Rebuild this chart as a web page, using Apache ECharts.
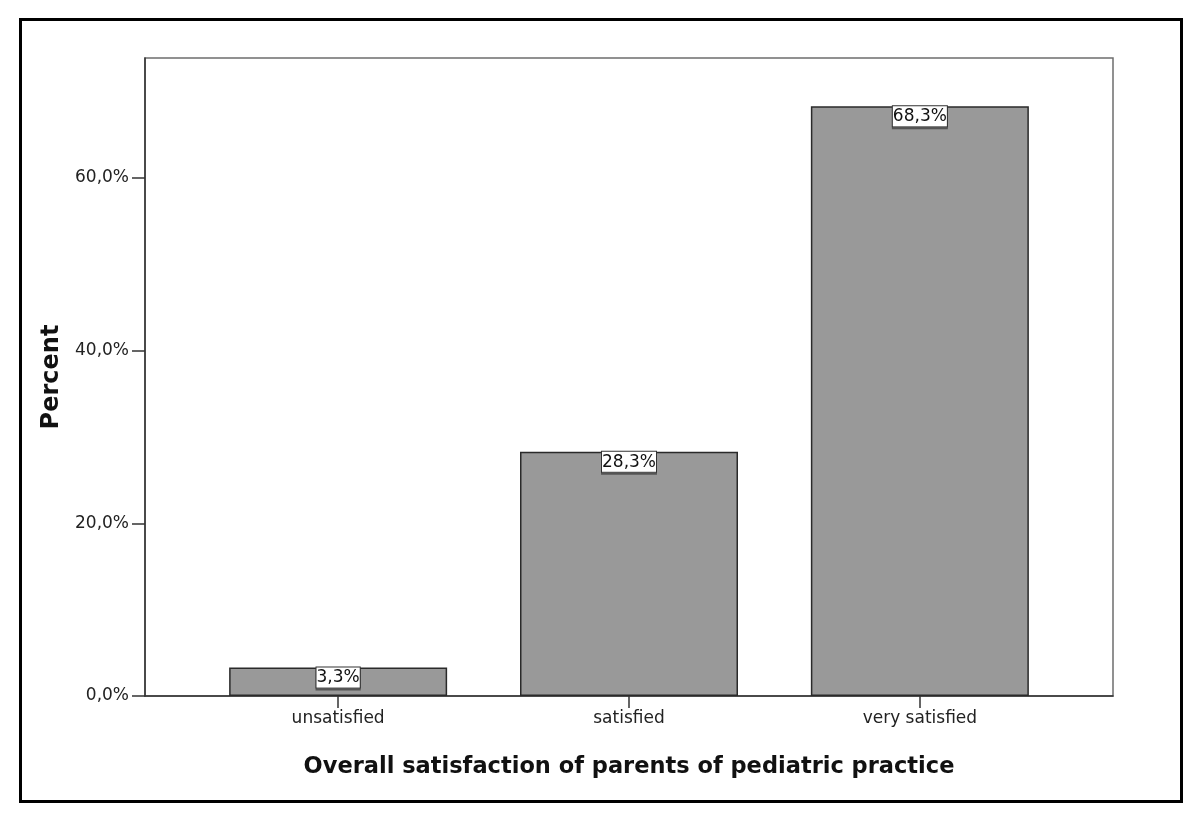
<!DOCTYPE html>
<html><head><meta charset="utf-8">
<script src="https://cdn.jsdelivr.net/npm/echarts@6/dist/echarts.min.js"></script>
<style>html,body{margin:0;padding:0;background:#fff}#c{width:1200px;height:820px}</style>
</head><body><div id="c"></div>
<script>
const categories = ['unsatisfied', 'satisfied', 'very satisfied'];
const percentValues = [3.3, 28.3, 68.3];
const yTickValues = [0, 20, 40, 60];
const xTitle = 'Overall satisfaction of parents of pediatric practice';
const yTitle = 'Percent';

const positions = categories.map((c, i) => i + 1);
const fmt = v => v.toFixed(1).replace('.', ',') + '%';

const chart = echarts.init(document.getElementById('c'), null, {renderer: 'canvas'});
chart.setOption({
  animation: false,
  backgroundColor: '#fff',
  graphic: [{
    type: 'rect', left: 18, top: 17, shape: {width: 1161, height: 782},
    style: {fill: 'none', stroke: '#000', lineWidth: 3}, z: 100
  }],
  grid: {left: 145, top: 58, right: 87, bottom: 124, show: true, borderColor: '#6e6e6e', borderWidth: 1.5, backgroundColor: '#fff'},
  xAxis: {
    type: 'value', min: 0.336, max: 3.664,
    splitLine: {show: false},
    axisLine: {show: true, onZero: false, lineStyle: {color: '#333', width: 1.5}},
    axisTick: {show: true, customValues: positions, length: 12, lineStyle: {color: '#333', width: 1.5}},
    axisLabel: {customValues: positions, formatter: v => categories[Math.round(v) - 1] || '',
      fontFamily: 'DejaVu Sans', fontSize: 17, color: '#222', margin: 14},
    name: xTitle, nameLocation: 'middle', nameGap: 60,
    nameTextStyle: {fontFamily: 'DejaVu Sans', fontWeight: 'bold', fontSize: 22.5, color: '#111'}
  },
  yAxis: {
    type: 'value', min: 0, max: 73.9,
    splitLine: {show: false},
    axisLine: {show: true, lineStyle: {color: '#333', width: 1.5}},
    axisTick: {show: true, customValues: yTickValues, length: 13, lineStyle: {color: '#333', width: 1.5}},
    axisLabel: {customValues: yTickValues, formatter: v => fmt(v),
      fontFamily: 'DejaVu Sans', fontSize: 17, color: '#222', margin: 16},
    name: yTitle, nameLocation: 'middle', nameGap: 80,
    nameTextStyle: {fontFamily: 'DejaVu Sans', fontWeight: 'bold', fontSize: 24, color: '#111'}
  },
  series: [{
    type: 'bar',
    data: positions.map((p, i) => [p, percentValues[i]]),
    barWidth: 218,
    itemStyle: {color: '#999999', borderColor: '#2a2a2a', borderWidth: 1.5},
    label: {
      show: true, position: 'insideTop', distance: 0,
      formatter: p => fmt(p.value[1]),
      fontFamily: 'DejaVu Sans', fontSize: 17, color: '#111',
      backgroundColor: '#fff', borderColor: '#333', borderWidth: 1,
      padding: [2, 0, 1, 0],
      shadowColor: '#555', shadowOffsetX: 0, shadowOffsetY: 2, shadowBlur: 0
    }
  }]
});
</script></body></html>
